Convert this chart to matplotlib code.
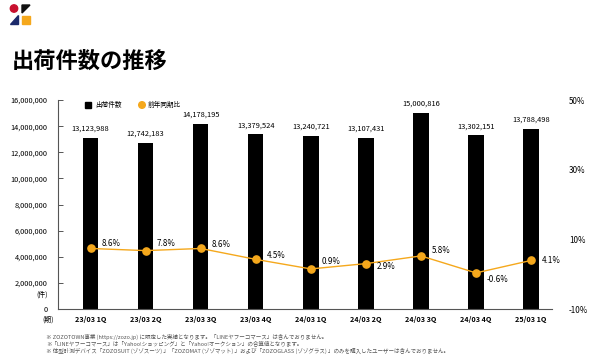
import matplotlib
matplotlib.use("Agg")
import matplotlib.pyplot as plt
from matplotlib.patches import Ellipse, Polygon, Rectangle

plt.rcParams['font.family'] = ['Noto Sans CJK JP', 'DejaVu Sans']

quarters = ["23/03 1Q", "23/03 2Q", "23/03 3Q", "23/03 4Q", "24/03 1Q",
            "24/03 2Q", "24/03 3Q", "24/03 4Q", "25/03 1Q"]
shipments = [13123988, 12742183, 14178195, 13379524, 13240721,
             13107431, 15000816, 13302151, 13788498]
yoy = [8.6, 7.8, 8.6, 4.5, 0.9, 2.9, 5.8, -0.6, 4.1]
# vertical offset (px) of each percent label from its marker
label_dy = [5, 7, 4, 4, 7, -3, 5, -7, 0]

left_ticks = list(range(0, 16000001, 2000000))
right_ticks = [-10, 10, 30, 50]
notes = [
    "※ ZOZOTOWN事業 (https://zozo.jp) に限定した実績となります。「LINEヤフーコマース」は含んでおりません。",
    "※「LINEヤフーコマース」は「Yahoo!ショッピング」と「Yahoo!オークション」の合算値となります。",
    "※ 体型計測デバイス「ZOZOSUIT (ゾゾスーツ) 」「ZOZOMAT (ゾゾマット) 」および「ZOZOGLASS (ゾゾグラス) 」のみを購入したユーザーは含んでおりません。",
]

orange = "#F5A81C"
W, H = 600, 359
fig = plt.figure(figsize=(6, 3.59), dpi=100)
tf = fig.transFigure

# logo
fig.patches.append(Ellipse((14 / W, 1 - 8.5 / H), 7.4 / W, 7.4 / H, transform=tf,
                           color="#C8102E"))
fig.patches.append(Polygon([(22 / W, 1 - 5 / H), (30 / W, 1 - 5 / H), (22 / W, 1 - 13 / H)],
                           closed=True, transform=tf, color="#111111"))
fig.patches.append(Polygon([(10 / W, 1 - 24 / H), (18 / W, 1 - 24 / H), (18 / W, 1 - 15 / H)],
                           closed=True, transform=tf, color="#1B2A6B"))
fig.patches.append(Rectangle((22 / W, 1 - 24 / H), 8 / W, 8 / H, transform=tf,
                             color="#F5A81C"))

fig.text(12 / W, 1 - 61 / H, "出荷件数の推移", fontsize=16, fontweight="bold",
         va="center", ha="left")

x0, x1 = 57.5, 552
y_top, y_bot = 100, 309.3
ax = fig.add_axes([x0 / W, 1 - y_bot / H, (x1 - x0) / W, (y_bot - y_top) / H])
xs = list(range(len(quarters)))
ax.bar(xs, shipments, width=0.28, color="#000000", zorder=2)
ax.set_xlim(-0.6, 8.38)
ax.set_ylim(0, 16000000)
ax.set_yticks(left_ticks)
ax.set_yticklabels([f"{v:,}" for v in left_ticks], fontsize=5.3)
ax.set_xticks(xs)
ax.set_xticklabels(quarters, fontsize=5.2, fontweight="bold")
ax.tick_params(axis="y", direction="in", length=3.6, width=0.7, color="#555555", pad=7)
ax.tick_params(axis="x", length=0, pad=4.5)
for side in ["top", "right"]:
    ax.spines[side].set_visible(False)
for side in ["left", "bottom"]:
    ax.spines[side].set_color("#555555")
    ax.spines[side].set_linewidth(0.8)

for x, v in zip(xs, shipments):
    ax.annotate(f"{v:,}", (x, v), xytext=(0, 5), textcoords="offset pixels",
                ha="center", va="bottom", fontsize=5.4)

# right-hand scale (decorative, as in the source chart)
axr = ax.twinx()
axr.set_ylim(-10, 50)
axr.set_yticks(right_ticks)
axr.set_yticklabels([f"{t}%" for t in right_ticks], fontsize=5.8)
axr.tick_params(axis="y", length=0, pad=12.2)
for s in axr.spines.values():
    s.set_visible(False)

# year-on-year line
axl = ax.twinx()
axl.set_ylim(-14.3, 64.5)
axl.axis("off")
axl.plot(xs, yoy, color=orange, lw=1.0, marker="o", markersize=5.2, zorder=3)
for x, v, dy in zip(xs, yoy, label_dy):
    axl.annotate(f"{v}%", (x, v), xytext=(11, dy), textcoords="offset pixels",
                 ha="left", va="center", fontsize=5.8)

# legend
fig.patches.append(Rectangle((85 / W, 1 - 108 / H), 6 / W, 6 / H, transform=tf,
                             color="#000000"))
fig.text(95 / W, 1 - 105 / H, "出荷件数", fontsize=4.8, va="center", ha="left")
fig.patches.append(Ellipse((142 / W, 1 - 105 / H), 6.6 / W, 6.6 / H, transform=tf,
                           color=orange))
fig.text(148 / W, 1 - 105 / H, "前年同期比", fontsize=4.8, va="center", ha="left")

fig.text(48 / W, 1 - 295 / H, "(件)", fontsize=5, va="center", ha="right")
fig.text(48 / W, 1 - 320 / H, "(期)", fontsize=5, va="center", ha="center")

for i, n in enumerate(notes):
    fig.text(46 / W, 1 - (336.5 + 7.3 * i) / H, n, fontsize=4.0, color="#555555",
             va="center", ha="left")

fig.savefig("out.png", dpi=100)
